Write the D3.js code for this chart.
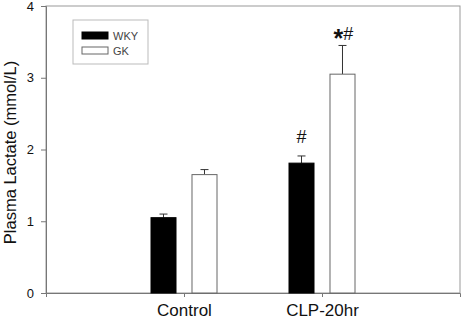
<!DOCTYPE html>
<html>
<head>
<meta charset="utf-8">
<script src="https://cdn.jsdelivr.net/npm/d3@7"></script>
<style>
  body { margin: 0; background: #fff; }
  svg text { font-family: "Liberation Sans", Arial, sans-serif; }
</style>
</head>
<body>
<svg id="chart"></svg>
<script>
// data
const categories = ["Control", "CLP-20hr"];
const groups = ["WKY", "GK"];
const wky = [1.05, 1.81];
const wkyErr = [0.05, 0.1];
const gk = [1.65, 3.05];
const gkErr = [0.07, 0.4];
const marks = [["", ""], ["#", "*#"]];
const yTicks = [0, 1, 2, 3, 4];

const width = 462;
const height = 319;
const margin = { top: 6, right: 2, bottom: 26, left: 46 };

const svg = d3.select("#chart").attr("width", width).attr("height", height);

const x = d3.scalePoint()
  .domain(categories)
  .range([margin.left, width - margin.right])
  .padding(1);

const xSub = d3.scaleBand()
  .domain(groups)
  .range([-33, 33])
  .paddingInner(0.39);

const y = d3.scaleLinear()
  .domain([0, 4])
  .range([height - margin.bottom, margin.top]);

const data = [];
categories.forEach((c, i) => {
  data.push({ cat: c, grp: "WKY", v: wky[i], e: wkyErr[i], mark: marks[i][0] });
  data.push({ cat: c, grp: "GK", v: gk[i], e: gkErr[i], mark: marks[i][1] });
});

// frame
svg.append("rect")
  .attr("x", margin.left)
  .attr("y", margin.top)
  .attr("width", width - margin.left - margin.right)
  .attr("height", height - margin.top - margin.bottom)
  .attr("fill", "none")
  .attr("stroke", "#999")
  .attr("stroke-width", 1);

// y axis
const yAxis = svg.append("g")
  .attr("transform", `translate(${margin.left},0)`)
  .call(d3.axisLeft(y).tickValues(yTicks).tickSize(5).tickPadding(7).tickFormat(d3.format("d")));
yAxis.select(".domain").attr("stroke", "#777");
yAxis.selectAll(".tick line").attr("stroke", "#777");
yAxis.selectAll(".tick text").attr("font-size", 13).attr("fill", "#111");

// x axis
const xAxis = svg.append("g")
  .attr("transform", `translate(0,${height - margin.bottom})`)
  .call(d3.axisBottom(x).tickSize(4).tickPadding(7));
xAxis.select(".domain").attr("stroke", "#777");
xAxis.selectAll(".tick line").attr("stroke", "#777");
xAxis.selectAll(".tick text").attr("font-size", 17).attr("fill", "#111");

// error bars (upward only)
const eb = svg.append("g").selectAll("g").data(data).enter().append("g")
  .attr("stroke", "#333").attr("stroke-width", 1);
eb.append("line")
  .attr("x1", d => x(d.cat) + xSub(d.grp) + xSub.bandwidth() / 2)
  .attr("x2", d => x(d.cat) + xSub(d.grp) + xSub.bandwidth() / 2)
  .attr("y1", d => y(d.v))
  .attr("y2", d => y(d.v + d.e));
eb.append("line")
  .attr("x1", d => x(d.cat) + xSub(d.grp) + xSub.bandwidth() / 2 - 4)
  .attr("x2", d => x(d.cat) + xSub(d.grp) + xSub.bandwidth() / 2 + 4)
  .attr("y1", d => y(d.v + d.e))
  .attr("y2", d => y(d.v + d.e));

// bars
svg.append("g").selectAll("rect").data(data).enter().append("rect")
  .attr("x", d => x(d.cat) + xSub(d.grp))
  .attr("y", d => y(d.v))
  .attr("width", xSub.bandwidth())
  .attr("height", d => y(0) - y(d.v))
  .attr("fill", d => d.grp === "WKY" ? "#000" : "#fff")
  .attr("stroke", d => d.grp === "WKY" ? "#000" : "#666")
  .attr("stroke-width", 1);

// significance marks
const sig = svg.append("g").selectAll("text").data(data.filter(d => d.mark)).enter().append("text")
  .attr("x", d => x(d.cat) + xSub(d.grp) + xSub.bandwidth() / 2 + (d.mark.length > 1 ? 1 : 0))
  .attr("y", d => y(d.v + d.e) - (d.mark.length > 1 ? 5 : 13))
  .attr("text-anchor", "middle")
  .attr("font-size", 18)
  .attr("fill", "#111");
sig.each(function(d) {
  const t = d3.select(this);
  for (const ch of d.mark) {
    if (ch === "*") {
      t.append("tspan").attr("font-size", 25).attr("font-weight", "bold").attr("dy", 7).text("*");
    } else {
      t.append("tspan").attr("dy", d.mark.length > 1 ? -7 : 0).text(ch);
    }
  }
});

// y label
svg.append("text")
  .attr("transform", `translate(16,${(margin.top + height - margin.bottom) / 2 + 3}) rotate(-90)`)
  .attr("text-anchor", "middle")
  .attr("font-size", 16.5)
  .attr("fill", "#111")
  .text("Plasma Lactate (mmol/L)");

// legend
const legend = svg.append("g").attr("transform", "translate(73,20)");
legend.append("rect")
  .attr("width", 75).attr("height", 44)
  .attr("fill", "#fff").attr("stroke", "#bbb");
groups.forEach((g, i) => {
  legend.append("rect")
    .attr("x", 9).attr("y", 12 + i * 15)
    .attr("width", 26).attr("height", 7)
    .attr("fill", g === "WKY" ? "#000" : "#fff")
    .attr("stroke", g === "WKY" ? "#000" : "#666");
  legend.append("text")
    .attr("x", 40).attr("y", 20 + i * 15)
    .attr("font-size", 11)
    .attr("fill", "#444")
    .text(g);
});
</script>
</body>
</html>
